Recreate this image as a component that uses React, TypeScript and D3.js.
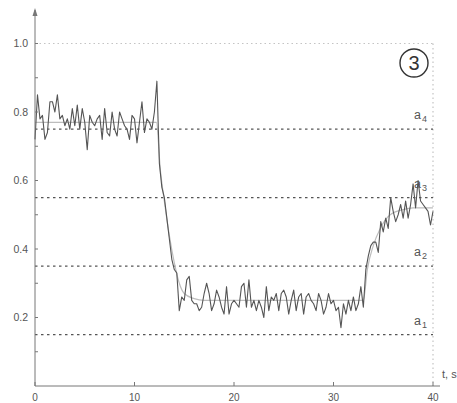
import React from 'react'
import * as d3 from 'd3'

// measured signal, sampled every 0.25 s from t = 0 to t = 40
const SAMPLE_STEP = 0.25
const signal = [
  0.72, 0.85, 0.78, 0.79, 0.72, 0.74, 0.83, 0.83, 0.80, 0.85, 0.78, 0.79,
  0.76, 0.78, 0.75, 0.81, 0.76, 0.82, 0.75, 0.81, 0.77, 0.69, 0.79, 0.77,
  0.76, 0.78, 0.79, 0.72, 0.81, 0.74, 0.73, 0.80, 0.75, 0.73, 0.80, 0.78,
  0.76, 0.75, 0.72, 0.79, 0.78, 0.71, 0.77, 0.83, 0.74, 0.78, 0.77, 0.75,
  0.80, 0.89, 0.65, 0.58, 0.55, 0.49, 0.43, 0.37, 0.34, 0.33, 0.22, 0.26,
  0.25, 0.31, 0.32, 0.25, 0.24, 0.24, 0.22, 0.23, 0.27, 0.30, 0.27, 0.22,
  0.24, 0.28, 0.26, 0.23, 0.21, 0.29, 0.21, 0.24, 0.25, 0.24, 0.23, 0.29,
  0.30, 0.23, 0.31, 0.23, 0.25, 0.22, 0.25, 0.23, 0.20, 0.29, 0.22, 0.26,
  0.25, 0.27, 0.22, 0.27, 0.28, 0.26, 0.21, 0.25, 0.28, 0.22, 0.26, 0.27,
  0.21, 0.26, 0.27, 0.25, 0.24, 0.22, 0.27, 0.25, 0.21, 0.23, 0.27, 0.24,
  0.25, 0.22, 0.23, 0.17, 0.24, 0.21, 0.25, 0.22, 0.26, 0.22, 0.24, 0.29,
  0.23, 0.34, 0.38, 0.41, 0.42, 0.42, 0.39, 0.48, 0.45, 0.49, 0.46, 0.55,
  0.51, 0.48, 0.50, 0.53, 0.49, 0.54, 0.49, 0.53, 0.59, 0.52, 0.60, 0.54,
  0.53, 0.52, 0.51, 0.47, 0.51,
]

// smooth model curve (light grey)
const modelT = [0, 12.2, 12.6, 13, 13.5, 14, 14.5, 15, 16, 17, 33, 33.4, 34, 34.7, 35.7, 37, 38, 39, 40]
const modelV = [0.77, 0.77, 0.63, 0.54, 0.44, 0.36, 0.3, 0.27, 0.255, 0.25, 0.25, 0.34, 0.41, 0.46, 0.5, 0.515, 0.52, 0.52, 0.52]

const levels = [0.15, 0.35, 0.55, 0.75]
const levelNames = ['1', '2', '3', '4']
const xTicks = [0, 10, 20, 30, 40]
const yLabelTicks = [0.2, 0.4, 0.6, 0.8, 1.0]
const yMinorTicks = [0.1, 0.3, 0.5, 0.7, 0.9]

const W = 457
const H = 403
const FONT = 'Liberation Sans, Arial, sans-serif'

export default function App() {
  const x = d3.scaleLinear().domain([0, 40]).range([35, 433])
  const y = d3.scaleLinear().domain([0, 1]).range([386, 43.5])

  const pts = signal.map((v, i) => [i * SAMPLE_STEP, v] as [number, number])
  const line = d3.line<[number, number]>().x((d) => x(d[0])).y((d) => y(d[1]))
  const model = d3
    .line<number>()
    .x((_, i) => x(modelT[i]))
    .y((d) => y(d))
    .curve(d3.curveMonotoneX)

  const x0 = x(0)
  const y0 = y(0)

  return (
    <svg width={W} height={H} style={{ position: 'absolute', left: 0, top: 0, background: '#fff' }} fontFamily={FONT}>
      {/* light dotted frame at 1.0 and t = 40 */}
      <line x1={x0} x2={x(40)} y1={y(1)} y2={y(1)} stroke="#c4c4c4" strokeWidth={1.2} strokeDasharray="1.5,3" />
      <line x1={x(40)} x2={x(40)} y1={y(1)} y2={y0} stroke="#c4c4c4" strokeWidth={1.2} strokeDasharray="1.5,3" />

      {/* threshold levels */}
      {levels.map((lv) => (
        <line key={lv} x1={x0} x2={x(40)} y1={y(lv)} y2={y(lv)} stroke="#555" strokeWidth={1.4} strokeDasharray="2.5,3.5" />
      ))}

      {/* model curve */}
      <path d={model(modelV) || ''} fill="none" stroke="#bdbdbd" strokeWidth={1.2} />
      {/* measured signal */}
      <path d={line(pts) || ''} fill="none" stroke="#555" strokeWidth={1.1} strokeLinejoin="round" />

      {/* axes */}
      <line x1={x0} x2={x0} y1={y0} y2={10} stroke="#777" strokeWidth={1} />
      <path d={`M${x0 - 2.5},${16} L${x0},${8} L${x0 + 2.5},${16} Z`} fill="#777" />
      <line x1={x0} x2={440} y1={y0} y2={y0} stroke="#777" strokeWidth={1} />

      {xTicks.map((t) => (
        <g key={t}>
          <line x1={x(t)} x2={x(t)} y1={y0} y2={y0 - 4} stroke="#777" />
          <text x={x(t)} y={401} textAnchor="middle" fontSize={10} fill="#555">{t}</text>
        </g>
      ))}
      {yLabelTicks.map((t) => (
        <g key={t}>
          <line x1={x0} x2={x0 + 3} y1={y(t)} y2={y(t)} stroke="#777" />
          <text x={28} y={y(t)} dy="0.35em" textAnchor="end" fontSize={10.5} fill="#555">{t.toFixed(1)}</text>
        </g>
      ))}
      {yMinorTicks.map((t) => (
        <line key={t} x1={x0} x2={x0 + 3} y1={y(t)} y2={y(t)} stroke="#777" />
      ))}

      <text x={442} y={378} fontSize={11} fill="#555">t, s</text>

      {/* level labels */}
      {levels.map((lv, i) => (
        <text key={lv} x={414} y={y(lv) - 10} fontSize={12.5} fill="#555">
          a<tspan fontSize={9} dy={3} dx={1}>{levelNames[i]}</tspan>
        </text>
      ))}

      {/* panel marker */}
      <circle cx={414} cy={63} r={14} fill="none" stroke="#333" strokeWidth={1.4} />
      <text x={414} y={63} dy="0.36em" textAnchor="middle" fontSize={20} fill="#333">3</text>
    </svg>
  )
}
